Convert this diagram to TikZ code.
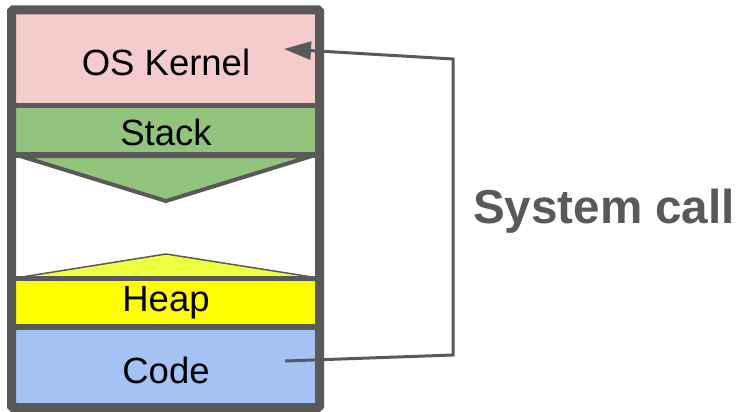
\documentclass[tikz,border=0pt]{standalone}
\usepackage{fontspec}
\setmainfont{Liberation Sans}
\usetikzlibrary{arrows.meta}
\definecolor{edge}{HTML}{595959}
\definecolor{kernelfill}{HTML}{F4CCCC}
\definecolor{stackfill}{HTML}{93C47D}
\definecolor{heapfill}{HTML}{FFFF00}
\definecolor{heapgrow}{HTML}{EEFF41}
\definecolor{codefill}{HTML}{A4C2F4}
\tikzset{
  seg/.style={draw=none},
  divider/.style={draw=edge, line width=5.5pt},
  label/.style={font=\fontsize{36.5}{40}\selectfont, text=black, inner sep=0pt},
  callline/.style={draw=edge, line width=3pt, line join=miter},
}
\begin{document}
\begin{tikzpicture}[x=1pt, y=-1pt]
\useasboundingbox (0,0) rectangle (742,412);
% memory segments
\fill[kernelfill] (12,10) rectangle (320,105);
\fill[stackfill] (12,105) rectangle (320,155);
\fill[heapfill] (12,278) rectangle (320,327);
\fill[codefill] (12,327) rectangle (320,408);
% growth wedges
\filldraw[fill=stackfill, draw=edge, line width=4pt, line join=miter] (20,156) -- (166,201) -- (312,156) -- cycle;
\filldraw[fill=heapgrow, draw=edge, line width=1.5pt] (22,277) -- (166,254) -- (312,277) -- cycle;
% dividers
\draw[divider] (12,105.5) -- (320,105.5);
\draw[divider] (12,155) -- (320,155);
\draw[divider] (12,278.5) -- (320,278.5);
\draw[divider] (12,327) -- (320,327);
% outer frame
\draw[draw=edge, line width=9pt, rounded corners=1.5pt] (11.5,10) rectangle (319.5,407.5);
% segment labels
\node[label] (kernel) at (166,62) {OS Kernel};
\node[label] (stack) at (166,132) {Stack};
\node[label] (heap) at (166,303) {Heap};
\node[label] (code) at (166,370) {Code};
% system call path
\coordinate (callfrom) at (285,361);
\coordinate (callto) at (284,49);
\coordinate (turnlow) at (453,355);
\coordinate (turnhigh) at (453,59);
\draw[callline, -{Triangle[length=27pt, width=18pt]}] (callfrom) -- (turnlow) -- (turnhigh) -- (callto);
\node[font=\fontsize{47.6}{52}\selectfont\bfseries, text=edge, inner sep=0pt] (syscall) at (604,211) {System call};
\end{tikzpicture}
\end{document}
